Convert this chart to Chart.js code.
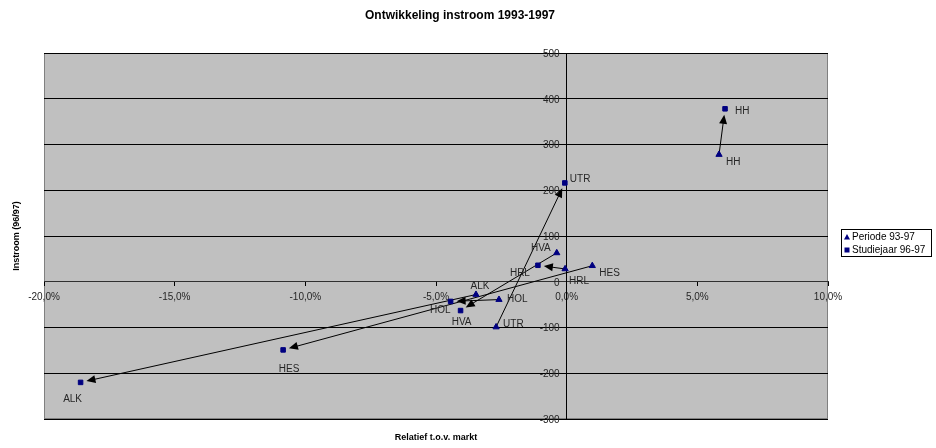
<!DOCTYPE html>
<html>
<head>
<meta charset="utf-8">
<title>Ontwikkeling instroom 1993-1997</title>
<script src="https://cdn.jsdelivr.net/npm/chart.js@4/dist/chart.umd.min.js"></script>
<style>
  html, body { margin: 0; padding: 0; background: #ffffff; }
  #wrap { width: 936px; height: 448px; }
</style>
</head>
<body>
<div id="wrap"><canvas id="chart" width="936" height="448"></canvas></div>
<script>
// Institutions (labels of each point pair)
const categories = ['HH', 'UTR', 'HVA', 'HRL', 'HES', 'ALK', 'HOL'];

// Periode 93-97: relative to market (%) and intake
const periodeX = [5.83, -2.70, -0.38, -0.06, 0.98, -3.47, -2.59];
const periodeY = [278, -99, 63, 28, 35, -28, -39];

// Studiejaar 96-97: relative to market (%) and intake
const studieX = [6.06, -0.07, -4.06, -1.10, -10.85, -18.60, -4.44];
const studieY = [378, 216, -63, 36, -149, -220, -43];

// Axis ranges and tick steps
const xRange = [-20, 10];
const xStep = 5;
const yRange = [-300, 500];
const yStep = 100;

const seriesNames = ['Periode 93-97', 'Studiejaar 96-97'];

// Label placement around each point: [dx, dy, align]
const periodeLabelPos = [
  [7, 8, 'left'], [7, -3, 'left'], [-6, -5, 'right'], [4, 12, 'left'],
  [7, 8, 'left'], [4, -8, 'center'], [8, 0, 'left']
];
const studieLabelPos = [
  [10, 2, 'left'], [5, -4, 'left'], [1, 12, 'center'], [-8, 8, 'right'],
  [6, 19, 'center'], [-8, 17, 'center'], [0, 9, 'right']
];

const FONT = "'Liberation Sans', Arial, sans-serif";
const NAVY = '#000080';
const TEXT = '#262626';

function toPoints(xs, ys) {
  return xs.map((v, i) => ({ x: v, y: ys[i] }));
}

// Grey plot background with a thin frame
const plotFrame = {
  id: 'plotFrame',
  beforeDraw(chart) {
    const { ctx, chartArea: a } = chart;
    ctx.save();
    ctx.fillStyle = '#c0c0c0';
    ctx.fillRect(a.left, a.top, a.right - a.left, a.bottom - a.top);
    ctx.strokeStyle = '#808080';
    ctx.lineWidth = 1;
    ctx.strokeRect(a.left + 0.5, a.top + 0.5, a.right - a.left - 1, a.bottom - a.top - 1);
    ctx.restore();
  }
};

// Arrows from each 93-97 point to its 96-97 point
const pairArrows = {
  id: 'pairArrows',
  beforeDatasetsDraw(chart) {
    const { ctx, scales: { x, y } } = chart;
    const gap = 6, headLen = 9, headHalf = 4;
    ctx.save();
    ctx.strokeStyle = '#000000';
    ctx.fillStyle = '#000000';
    ctx.lineWidth = 1;
    categories.forEach((c, i) => {
      const x0 = x.getPixelForValue(periodeX[i]);
      const y0 = y.getPixelForValue(periodeY[i]);
      const x1 = x.getPixelForValue(studieX[i]);
      const y1 = y.getPixelForValue(studieY[i]);
      const ang = Math.atan2(y1 - y0, x1 - x0);
      const cos = Math.cos(ang), sin = Math.sin(ang);
      const tx = x1 - gap * cos, ty = y1 - gap * sin;
      const bx = tx - headLen * cos, by = ty - headLen * sin;
      ctx.beginPath();
      ctx.moveTo(x0, y0);
      ctx.lineTo(bx + 2 * cos, by + 2 * sin);
      ctx.stroke();
      ctx.beginPath();
      ctx.moveTo(tx, ty);
      ctx.lineTo(bx - headHalf * sin, by + headHalf * cos);
      ctx.lineTo(bx + headHalf * sin, by - headHalf * cos);
      ctx.closePath();
      ctx.fill();
    });
    ctx.restore();
  }
};

// Y tick labels sit just left of the vertical axis at x = 0
const yTickLabels = {
  id: 'yTickLabels',
  afterDraw(chart) {
    const { ctx, scales: { x, y } } = chart;
    const axisX = x.getPixelForValue(0);
    ctx.save();
    ctx.fillStyle = TEXT;
    ctx.font = '10px ' + FONT;
    ctx.textAlign = 'right';
    ctx.textBaseline = 'middle';
    y.ticks.forEach(t => {
      ctx.fillText(String(t.value), axisX - 7, y.getPixelForValue(t.value) + 1);
    });
    ctx.restore();
  }
};

// Point labels, axis titles, chart title and legend
const texts = {
  id: 'texts',
  afterDraw(chart) {
    const { ctx, chartArea: a } = chart;
    ctx.save();
    ctx.fillStyle = TEXT;
    ctx.textBaseline = 'middle';
    ctx.font = '10px ' + FONT;
    [[0, periodeLabelPos], [1, studieLabelPos]].forEach(([di, pos]) => {
      const meta = chart.getDatasetMeta(di);
      meta.data.forEach((el, i) => {
        const p = pos[i];
        ctx.textAlign = p[2];
        ctx.fillText(categories[i], el.x + p[0], el.y + p[1]);
      });
    });

    // chart title
    ctx.fillStyle = '#000000';
    ctx.textAlign = 'center';
    ctx.font = 'bold 12px ' + FONT;
    ctx.fillText('Ontwikkeling instroom 1993-1997', 460, 16);

    // axis titles
    ctx.font = 'bold 9px ' + FONT;
    ctx.fillText('Relatief t.o.v. markt', (a.left + a.right) / 2, 438);
    ctx.save();
    ctx.translate(17, (a.top + a.bottom) / 2);
    ctx.rotate(-Math.PI / 2);
    ctx.fillText('Instroom (96/97)', 0, 0);
    ctx.restore();

    // legend
    const lx = 841, ly = 229, lw = 91, lh = 28;
    ctx.fillStyle = '#ffffff';
    ctx.fillRect(lx, ly, lw, lh);
    ctx.strokeStyle = '#000000';
    ctx.lineWidth = 1;
    ctx.strokeRect(lx + 0.5, ly + 0.5, lw - 1, lh - 1);
    ctx.font = '10px ' + FONT;
    ctx.textAlign = 'left';
    const rows = [ly + 8, ly + 21];
    chart.data.datasets.forEach((ds, i) => {
      const cy = rows[i];
      ctx.fillStyle = NAVY;
      ctx.beginPath();
      if (ds.pointStyle === 'triangle') {
        ctx.moveTo(847, cy - 3);
        ctx.lineTo(850, cy + 2.5);
        ctx.lineTo(844, cy + 2.5);
        ctx.closePath();
      } else {
        ctx.rect(844.5, cy - 2.5, 5, 5);
      }
      ctx.fill();
      ctx.fillStyle = '#000000';
      ctx.fillText(ds.label, 852, cy);
    });
    ctx.restore();
  }
};

const tickFont = { family: FONT, size: 10 };

new Chart(document.getElementById('chart'), {
  type: 'scatter',
  data: {
    datasets: [
      {
        label: seriesNames[0],
        data: toPoints(periodeX, periodeY),
        pointStyle: 'triangle',
        pointRadius: 3.6,
        pointHoverRadius: 3.6,
        backgroundColor: NAVY,
        borderColor: NAVY,
        borderWidth: 1
      },
      {
        label: seriesNames[1],
        data: toPoints(studieX, studieY),
        pointStyle: 'rect',
        pointRadius: 3.2,
        pointHoverRadius: 3.2,
        backgroundColor: NAVY,
        borderColor: NAVY,
        borderWidth: 1
      }
    ]
  },
  options: {
    responsive: false,
    devicePixelRatio: 1,
    animation: false,
    events: [],
    layout: { padding: { left: 44, right: 108, top: 53, bottom: 29 } },
    plugins: {
      legend: { display: false },
      title: { display: false },
      tooltip: { enabled: false }
    },
    scales: {
      x: {
        type: 'linear',
        min: xRange[0],
        max: xRange[1],
        position: { y: 0 },
        afterFit(s) { s.height = 0; },
        ticks: {
          stepSize: xStep,
          font: tickFont,
          color: TEXT,
          padding: 5,
          maxRotation: 0,
          callback: v => v.toFixed(1).replace('.', ',') + '%'
        },
        grid: { drawOnChartArea: false, drawTicks: true, tickLength: 4, color: '#000000' },
        border: { display: true, color: '#303030', width: 1 }
      },
      y: {
        type: 'linear',
        min: yRange[0],
        max: yRange[1],
        position: { x: 0 },
        afterFit(s) { s.width = 0; },
        ticks: {
          stepSize: yStep,
          display: false
        },
        grid: { drawOnChartArea: true, drawTicks: true, tickLength: 4, color: '#000000' },
        border: { display: true, color: '#000000', width: 1 }
      }
    }
  },
  plugins: [plotFrame, pairArrows, yTickLabels, texts]
});
</script>
</body>
</html>
